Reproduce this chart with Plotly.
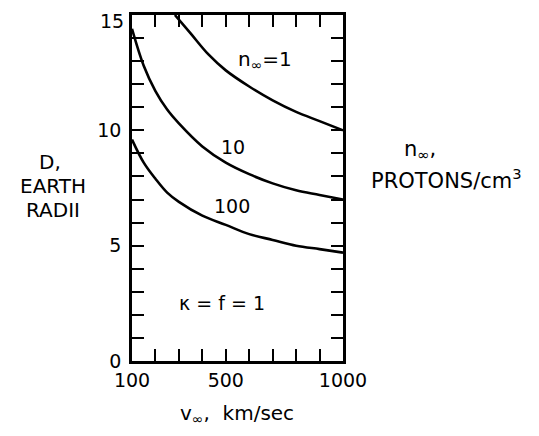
import plotly.graph_objects as go

# Velocity values (km/sec) and stand-off distance D (Earth radii)
v_n1 = [283, 350, 425, 500, 600, 700, 800, 900, 1000]
d_n1 = [15.0, 14.2, 13.3, 12.6, 11.9, 11.3, 10.8, 10.4, 10.0]

v_n10 = [100, 150, 200, 250, 300, 400, 500, 600, 700, 800, 900, 1000]
d_n10 = [14.4, 12.8, 11.7, 10.9, 10.3, 9.3, 8.6, 8.1, 7.7, 7.4, 7.2, 7.0]

v_n100 = [100, 150, 200, 250, 300, 400, 500, 600, 700, 800, 900, 1000]
d_n100 = [9.6, 8.6, 7.9, 7.3, 6.9, 6.3, 5.9, 5.5, 5.25, 5.0, 4.85, 4.7]

x_labelled = [100, 500, 1000]
y_labelled = [0, 5, 10]
y_top_label = "15"

FONT = "DejaVu Sans"
line = dict(color="black", width=2.6, shape="spline", smoothing=1.0)

fig = go.Figure()
for xs, ys in [(v_n1, d_n1), (v_n10, d_n10), (v_n100, d_n100)]:
    fig.add_trace(go.Scatter(x=xs, y=ys, mode="lines", line=line,
                             showlegend=False, hoverinfo="skip", cliponaxis=True))

axis_common = dict(showline=True, linecolor="black", linewidth=2.5, mirror="ticks",
                   ticks="inside", ticklen=12, tickwidth=2, tickcolor="black",
                   showgrid=False, zeroline=False, automargin=False,
                   tickfont=dict(family=FONT, size=19, color="black"))
minor_common = dict(ticks="inside", ticklen=12, tickwidth=2, tickcolor="black",
                    showgrid=False)

fig.update_xaxes(range=[100, 1000], tickmode="array", tickvals=x_labelled,
                 minor=dict(tick0=100, dtick=100, **minor_common), **axis_common)
fig.update_yaxes(range=[0, 15], tickmode="array", tickvals=y_labelled,
                 ticklabelstandoff=4,
                 minor=dict(tick0=0, dtick=1, **minor_common), **axis_common)

def ann(text, x, y, size=19, xanchor="center"):
    fig.add_annotation(text=text, x=x, y=y, xref="paper", yref="paper",
                       showarrow=False, xanchor=xanchor, yanchor="middle",
                       font=dict(family=FONT, size=size, color="black"))

# page offset of the figure inside the browser body (default body margin)
OFF = 8
W, H = 539 - OFF, 436 - OFF
# plot area in window pixels: left=132, right=343, top=15, bottom=361
L, R, T, B = 132, 343, 15, 361
def px(xp):
    return (xp - L) / (R - L)
def py(yp):
    return (B - yp) / (B - T)

# top y tick label (kept as annotation so it stays inside the figure)
fig.add_annotation(text=y_top_label, x=0, y=15, xref="paper", yref="y", showarrow=False,
                   xanchor="right", yanchor="top", xshift=-6, yshift=7,
                   font=dict(family=FONT, size=19, color="black"))

ann("n<sub>∞</sub>=1", px(265), py(60), size=20)
ann("10", px(233), py(147))
ann("100", px(232), py(206))
ann("κ = f = 1", px(222), py(303))

# left axis title lines
ann("D,", px(50), py(162), size=20)
ann("EARTH", px(53), py(186), size=20)
ann("RADII", px(53), py(210), size=20)

# right label
ann("n<sub>∞</sub>,", px(420), py(150), size=21)
ann("PROTONS/cm<sup>3</sup>", px(446), py(179), size=21)

# x-axis title
ann("v<sub>∞</sub>,  km/sec", px(237), py(414), size=20)

fig.update_layout(width=W, height=H,
                  margin=dict(l=L - OFF, r=539 - R, t=T - OFF, b=436 - B),
                  paper_bgcolor="white", plot_bgcolor="white")

fig.write_html("out.html")
